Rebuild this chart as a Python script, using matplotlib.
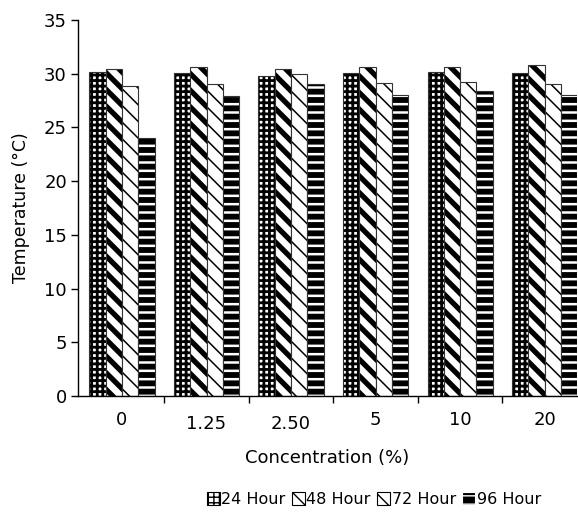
import matplotlib
matplotlib.use("Agg")
import matplotlib.pyplot as plt
import matplotlib.transforms as mtransforms
import numpy as np

plt.rcParams['font.family'] = ['DejaVu Sans']

concentrations = ["0", "1.25", "2.50", "5", "10", "20"]
series_names = ["24 Hour", "48 Hour", "72 Hour", "96 Hour"]
h24 = [30.2, 30.1, 29.8, 30.1, 30.2, 30.1]
h48 = [30.4, 30.6, 30.4, 30.6, 30.6, 30.8]
h72 = [28.9, 29.0, 30.0, 29.1, 29.2, 29.0]
h96 = [24.0, 27.9, 29.0, 28.0, 28.4, 28.0]

# face, hatch colour, hatch, hatch linewidth
styles = [
    ("white", "black", "+++", 2.0),
    ("white", "black", "\\\\", 3.8),
    ("white", "black", "\\\\", 1.1),
    ("black", "white", "--", 1.8),
]

fig = plt.figure(figsize=(5.78, 5.14), dpi=100)
ax = fig.add_axes([0.135, 0.2296, 0.863, 0.7314])

x = np.arange(len(concentrations))
width = 0.193
all_series = [h24, h48, h72, h96]
handles = []
for i, (vals, (fc, hc, hatch, hlw)) in enumerate(zip(all_series, styles)):
    pos = x + (i - 1.5) * width
    with plt.rc_context({'hatch.linewidth': hlw}):
        bars = ax.bar(pos, vals, width, color=fc, edgecolor=hc, hatch=hatch, linewidth=0)
        for b in bars:
            if hasattr(b, "set_hatch_linewidth"):
                b.set_hatch_linewidth(hlw)
    ax.bar(pos, vals, width, fill=False, edgecolor="#333333", linewidth=0.8)
    with plt.rc_context({'hatch.linewidth': hlw}):
        h = plt.Rectangle((0, 0), 1, 1, facecolor=fc, edgecolor=hc, hatch=hatch,
                          linewidth=0.8)
        if hasattr(h, "set_hatch_linewidth"):
            h.set_hatch_linewidth(hlw)
    handles.append(h)

ax.set_xlim(-0.52, 5.38)
ax.set_ylim(0, 35)
ax.set_yticks(range(0, 36, 5))
ax.set_xticks(x[:-1] + 0.5)
ax.set_xticklabels([])
ax.set_xticks(x, minor=True)
ax.set_xticklabels(concentrations, minor=True)
ax.tick_params(axis='x', which='minor', length=0, pad=11, labelsize=13)
ax.tick_params(axis='x', which='major', length=5, width=1, direction='out')
ax.tick_params(axis='y', length=5, width=1, direction='out', labelsize=13, pad=3)

# the 1.25 and 2.50 labels sit a little lower in the original
for lbl in ax.get_xticklabels(minor=True)[1:3]:
    off = mtransforms.ScaledTranslation(0, -3 / 72, fig.dpi_scale_trans)
    lbl.set_transform(lbl.get_transform() + off)

for s in ["top", "right"]:
    ax.spines[s].set_visible(False)
for s in ["left", "bottom"]:
    ax.spines[s].set_linewidth(1)

ax.set_xlabel("Concentration (%)", fontsize=13, labelpad=11)
ax.set_ylabel("Temperature (\u00b0C)", fontsize=12.5, labelpad=10)

fig.legend(handles, series_names, loc="center", bbox_to_anchor=(0.647, 0.028),
           ncol=4, frameon=False, fontsize=11.5, handlelength=0.8, handleheight=0.8,
           handletextpad=0.1, columnspacing=0.4)

fig.savefig("out.png", dpi=100)
